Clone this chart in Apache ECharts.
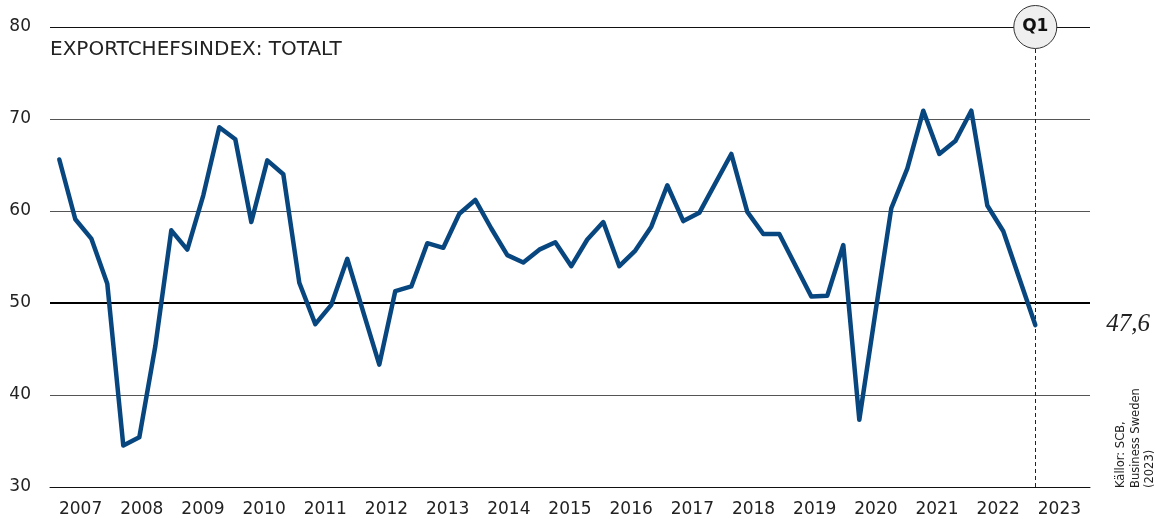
<!DOCTYPE html>
<html>
<head>
<meta charset="utf-8">
<script src="https://cdn.jsdelivr.net/npm/echarts@6/dist/echarts.min.js"></script>
<style>html,body{margin:0;padding:0;background:#fff;}#c{width:1155px;height:519px;}</style>
</head>
<body>
<div id="c"></div>
<script>
// Axis years shown under the chart
const years = ['2007','2008','2009','2010','2011','2012','2013','2014','2015','2016','2017','2018','2019','2020','2021','2022','2023'];
// Quarterly periods of the index (2007 K4 – 2023 K1)
const periods = [];
for (let y = 2007; y <= 2023; y++) for (let q = 1; q <= 4; q++) {
  if ((y === 2007 && q < 4) || (y === 2023 && q > 1)) continue;
  periods.push(y + ' K' + q);
}
// Exportchefsindex: totalt
const values = [
  65.6, 59.1, 57.0, 52.1, 34.5, 35.4, 45.3, 57.9, 55.8, 61.7,
  69.1, 67.8, 58.8, 65.5, 64.0, 52.2, 47.7, 49.8, 54.8, 49.0,
  43.3, 51.3, 51.8, 56.5, 56.0, 59.7, 61.2, 58.1, 55.2, 54.4,
  55.8, 56.6, 54.0, 56.9, 58.8, 54.0, 55.7, 58.3, 62.8, 58.9,
  59.8, 63.0, 66.2, 59.9, 57.5, 57.5, 54.1, 50.7, 50.8, 56.3,
  37.3, 48.9, 60.3, 64.6, 70.9, 66.2, 67.6, 70.9, 60.6, 57.8,
  52.7, 47.6
];
const yTicks = [30, 40, 50, 60, 70, 80];
const title = 'EXPORTCHEFSINDEX: TOTALT';
const markerLabel = 'Q1';
const sourceText = 'Källor: SCB,\nBusiness Sweden\n(2023)';

const quarters = [];
years.forEach(y => { for (let q = 1; q <= 4; q++) quarters.push(y + 'Q' + q); });
const lastPeriod = periods[periods.length - 1];
const lastValue = values[values.length - 1];

const chart = echarts.init(document.getElementById('c'));
const font = '"DejaVu Sans", sans-serif';
chart.setOption({
  animation: false,
  backgroundColor: '#fff',
  grid: [
    {left: 50, right: 65, top: 27, bottom: 32},
    {left: 51.3, right: 111.7, top: 27, bottom: 32}
  ],
  xAxis: [
    {type: 'category', gridIndex: 0, data: quarters, boundaryGap: true,
     axisLine: {lineStyle: {color: '#111', width: 1}},
     axisTick: {interval: 0, length: 6, lineStyle: {color: '#333'}},
     axisLabel: {show: false}, splitLine: {show: false}},
    {type: 'category', gridIndex: 0, data: years, boundaryGap: true, position: 'bottom',
     axisLine: {show: false},
     axisTick: {interval: 0, length: 14, lineStyle: {color: '#444', width: 1}},
     axisLabel: {interval: 0, fontSize: 17, color: '#222', fontFamily: font, margin: 14},
     splitLine: {show: false}},
    {type: 'category', gridIndex: 1, data: periods, boundaryGap: true, show: false}
  ],
  yAxis: [
    {type: 'value', gridIndex: 0, min: 30, max: 80, interval: 10,
     axisLine: {show: false}, axisTick: {show: false},
     axisLabel: {fontSize: 17, color: '#222', fontFamily: font, margin: 19, padding: [3, 0, 0, 0],
       formatter: v => yTicks.includes(v) ? String(v) : ''},
     splitLine: {show: true, lineStyle: {color: ['#111', '#555', '#555', '#555', '#555', '#111'], width: 1}}},
    {type: 'value', gridIndex: 1, min: 30, max: 80, interval: 10, show: false, splitLine: {show: false}}
  ],
  series: [
    {type: 'line', xAxisIndex: 0, yAxisIndex: 0, data: [], silent: true,
     markLine: {silent: true, symbol: 'none', label: {show: false},
       lineStyle: {color: '#000', width: 2, type: 'solid'},
       data: [{yAxis: 50}]}},
    {type: 'line', xAxisIndex: 2, yAxisIndex: 1, data: values, showSymbol: false, symbol: 'none',
     lineStyle: {color: '#08467f', width: 4.5, join: 'round', cap: 'round'}, z: 5,
     markLine: {silent: true, symbol: 'none', label: {show: false},
       lineStyle: {color: '#222', width: 1, type: [4, 3]},
       data: [{xAxis: lastPeriod}]},
     markPoint: {silent: true,
       data: [
         {coord: [lastPeriod, 80], symbol: 'circle', symbolSize: 43,
          itemStyle: {color: '#efefef', borderColor: '#333', borderWidth: 1},
          label: {show: true, position: 'inside', formatter: markerLabel, fontSize: 17, fontWeight: 'bold', color: '#111', fontFamily: font}},
         {coord: [lastPeriod, lastValue], symbol: 'circle', symbolSize: 2,
          itemStyle: {color: 'rgba(0,0,0,0)'},
          label: {show: true, position: 'right', distance: 0, offset: [70, -1],
            formatter: String(lastValue).replace('.', ','),
            fontFamily: '"Liberation Serif", serif', fontStyle: 'italic', fontSize: 25, color: '#222'}}
       ]}}
  ],
  graphic: [
    {type: 'text', left: 50, top: 40, style: {text: title, fill: '#222', font: '20px "DejaVu Sans", sans-serif'}},
    {type: 'text', x: 1114, y: 488, rotation: Math.PI / 2,
     style: {text: sourceText, fontSize: 11.5, lineHeight: 14.5, fill: '#222', fontFamily: font, align: 'left', verticalAlign: 'top'}}
  ]
});
</script>
</body>
</html>
